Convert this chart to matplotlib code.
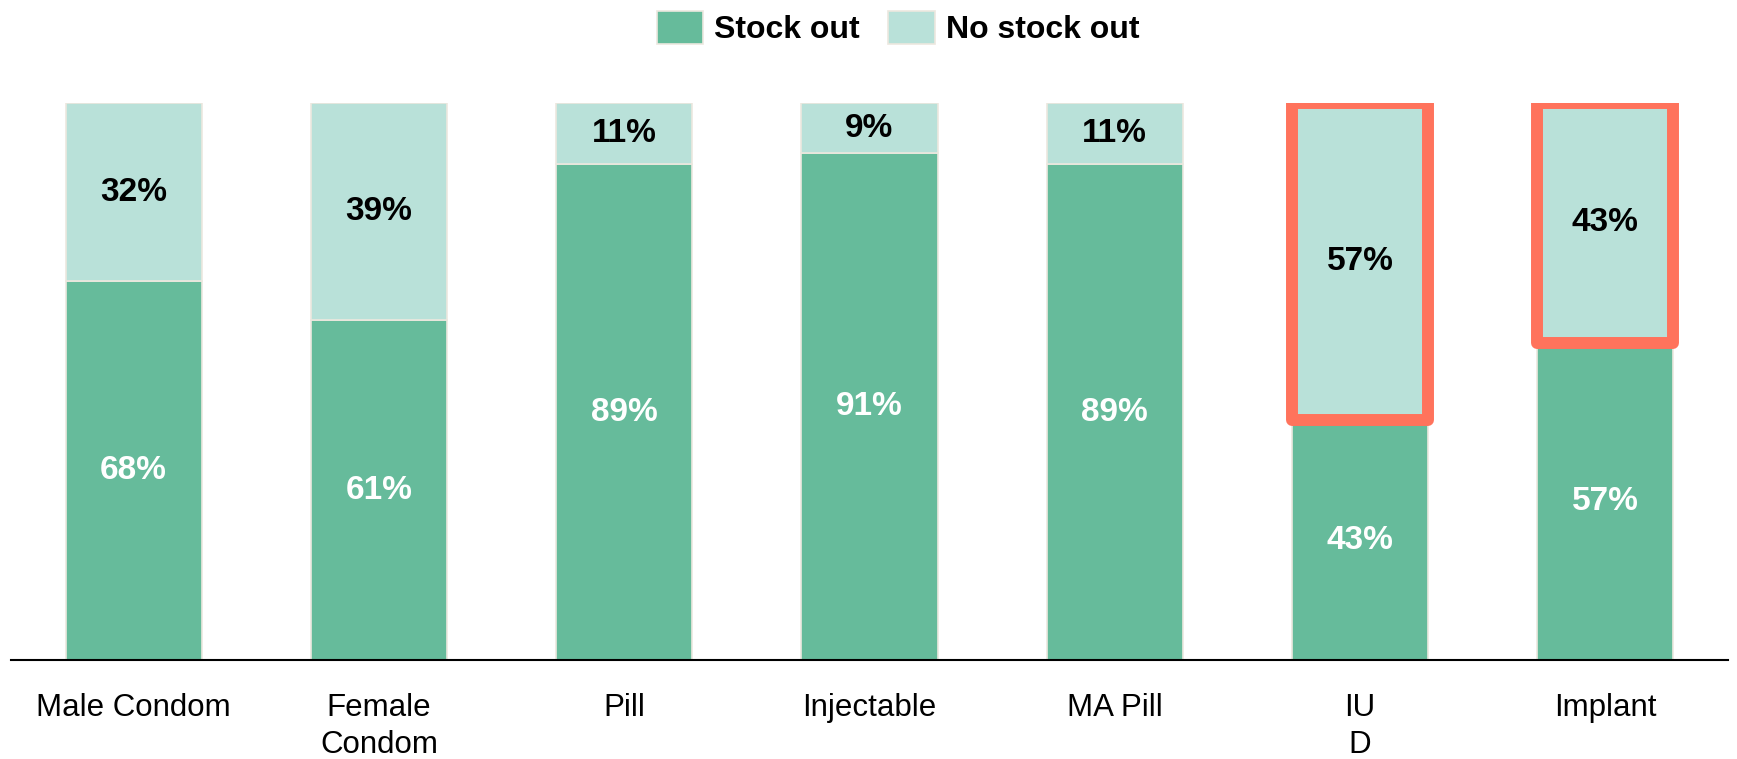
import numpy as np
import matplotlib.pyplot as plt
from matplotlib.patches import Rectangle

plt.rcParams['font.family'] = ['Liberation Sans', 'DejaVu Sans']

methods = ['Male Condom', 'Female\nCondom', 'Pill', 'Injectable', 'MA Pill', 'IU\nD', 'Implant']
stock_out = [68, 61, 89, 91, 89, 43, 57]
no_stock_out = [32, 39, 11, 9, 11, 57, 43]
highlight = ['IU\nD', 'Implant']

DARK = '#66BB9B'
LIGHT = '#B9E1D9'
EDGE = '#ECE8DF'
RED = '#FF735C'

fig = plt.figure(figsize=(17.37, 7.59), dpi=100)
ax = fig.add_axes([11 / 1737, 99 / 759, 1717 / 1737, 557 / 759])

x = np.arange(len(methods))
w = 0.555
b1 = ax.bar(x, stock_out, w, color=DARK, edgecolor=EDGE, linewidth=1.2, label='Stock out')
b2 = ax.bar(x, no_stock_out, w, bottom=stock_out, color=LIGHT, edgecolor=EDGE,
            linewidth=1.2, label='No stock out')

for i in range(len(methods)):
    ax.text(x[i], stock_out[i] / 2, f'{stock_out[i]}%', ha='center', va='center',
            color='white', fontsize=24, fontweight='bold')
    ax.text(x[i], stock_out[i] + no_stock_out[i] / 2, f'{no_stock_out[i]}%', ha='center',
            va='center', color='black', fontsize=24, fontweight='bold')
    # red outline around the "no stock out" part of the long-acting methods
    if methods[i] in highlight:
        ax.add_patch(Rectangle((x[i] - w / 2, stock_out[i]), w, no_stock_out[i],
                               fill=False, edgecolor=RED, linewidth=8.6,
                               joinstyle='round', zorder=5))

ax.set_xlim(-0.5, 6.5)
ax.set_ylim(0, 100)
ax.set_xticks(x)
ax.set_xticklabels(methods, fontsize=22.5, linespacing=1.3, va='top')
ax.tick_params(axis='x', length=0, pad=24)
ax.set_yticks([])
for s in ['top', 'right', 'left']:
    ax.spines[s].set_visible(False)
ax.spines['bottom'].set_linewidth(1.5)

fig.legend(handles=[b1, b2], loc='center', bbox_to_anchor=(898 / 1737, 1 - 28 / 759),
           ncol=2, frameon=False, prop={'size': 23, 'weight': 'bold'},
           handlelength=1.45, handleheight=1.2, handletextpad=0.35, columnspacing=0.9)

fig.savefig('out.png', dpi=100)
